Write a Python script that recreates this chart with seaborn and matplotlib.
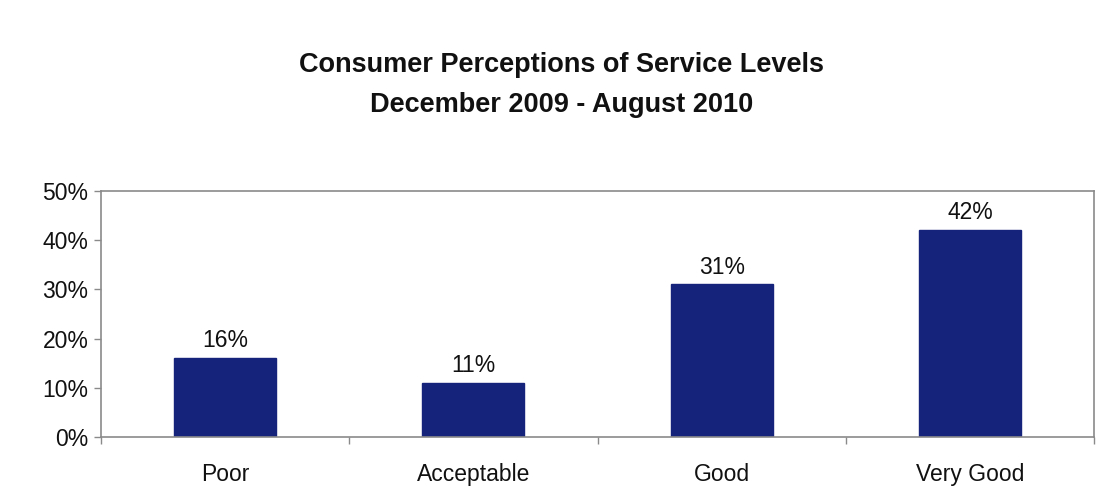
import matplotlib
matplotlib.use("Agg")
import matplotlib.pyplot as plt
from matplotlib.ticker import FixedLocator, PercentFormatter
import seaborn as sns
import pandas as pd

categories = ["Poor", "Acceptable", "Good", "Very Good"]
shares = [16, 11, 31, 42]
yticks = [0, 10, 20, 30, 40, 50]

sns.set_theme(style="white")
plt.rcParams["font.family"] = ["Liberation Sans", "DejaVu Sans"]

df = pd.DataFrame({"category": categories, "share": shares})

fig = plt.figure(figsize=(10.97, 4.95), dpi=100)
ax = fig.add_axes([101 / 1097, 1 - 437 / 495, (1094 - 101) / 1097, (437 - 191) / 495])

sns.barplot(data=df, x="category", y="share", color="#16237a", saturation=1,
            width=0.41, ax=ax, edgecolor="#16237a")

ax.set_ylim(0, 50)
ax.set_xlim(-0.5, len(categories) - 0.5)
ax.yaxis.set_major_locator(FixedLocator(yticks))
ax.yaxis.set_major_formatter(PercentFormatter(decimals=0))
ax.set_xlabel("")
ax.set_ylabel("")

for side in ["left", "right", "top", "bottom"]:
    ax.spines[side].set_visible(True)
    ax.spines[side].set_color("#8a8a8a")
    ax.spines[side].set_linewidth(1.2)

ax.tick_params(axis="y", which="major", left=True, length=5, width=1,
               color="#8a8a8a", labelsize=16.5, pad=4, labelcolor="#111111")
ax.tick_params(axis="x", which="major", bottom=False, labelsize=16.5, pad=13,
               labelcolor="#111111")
# category boundary ticks below the baseline
ax.set_xticks([i + 0.5 for i in range(len(categories) - 1)] + [-0.5, len(categories) - 0.5], minor=True)
ax.tick_params(axis="x", which="minor", bottom=True, length=5, width=1, color="#8a8a8a")

for patch, v in zip(ax.patches, shares):
    ax.text(patch.get_x() + patch.get_width() / 2, v + 1.2, f"{v}%",
            ha="center", va="bottom", fontsize=16.5, color="#111111")

title_family = ["Liberation Sans Narrow", "Liberation Sans", "DejaVu Sans"]
fig.text(0.512, 1 - 65 / 495, "Consumer Perceptions of Service Levels",
         ha="center", va="center", fontsize=19.5, fontweight="bold",
         family=title_family, color="#111111")
fig.text(0.512, 1 - 105 / 495, "December 2009 - August 2010",
         ha="center", va="center", fontsize=19.5, fontweight="bold",
         family=title_family, color="#111111")

fig.savefig("out.png", dpi=100, facecolor="white")
